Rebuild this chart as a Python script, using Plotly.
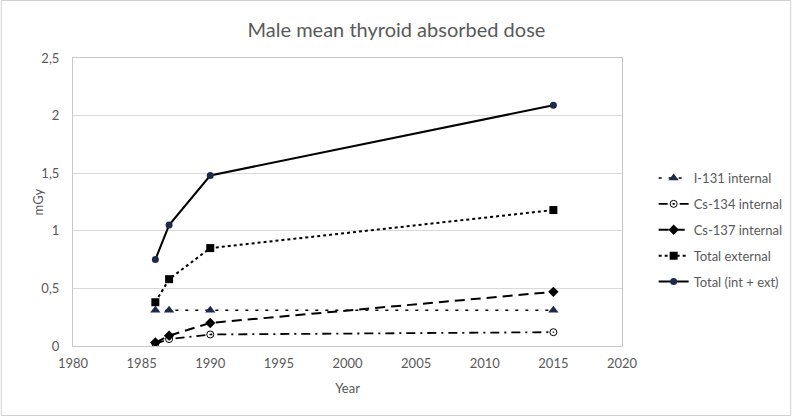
import plotly.graph_objects as go

years = [1986, 1987, 1990, 2015]
i131 = [0.31, 0.31, 0.31, 0.31]
cs134 = [0.02, 0.06, 0.10, 0.12]
cs137 = [0.03, 0.09, 0.20, 0.47]
total_ext = [0.38, 0.58, 0.85, 1.18]
total = [0.75, 1.05, 1.48, 2.09]

x_ticks = [1980, 1985, 1990, 1995, 2000, 2005, 2010, 2015, 2020]
y_ticks = [0, 0.5, 1, 1.5, 2, 2.5]
y_labels = ["0", "0,5", "1", "1,5", "2", "2,5"]

navy = "#1c2b4a"
gray = "#595959"

fig = go.Figure()
fig.add_trace(go.Scatter(x=years, y=i131, name="I-131 internal", mode="lines+markers", legendgroup="a",
                         line=dict(color="black", width=1.5, dash="3px,7px"),
                         marker=dict(symbol="triangle-up", size=9, color=navy)))
fig.add_trace(go.Scatter(x=years, y=cs134, name="Cs-134 internal", mode="lines+markers", legendgroup="b",
                         line=dict(color="black", width=1.8, dash="9px,5px,2px,5px"),
                         marker=dict(symbol="circle-open-dot", size=7, color="black", line=dict(width=1))))
fig.add_trace(go.Scatter(x=years, y=cs137, name="Cs-137 internal", mode="lines+markers", legendgroup="c",
                         line=dict(color="black", width=2, dash="10px,6px"),
                         marker=dict(symbol="diamond", size=8, color="black")))
fig.add_trace(go.Scatter(x=years, y=total_ext, name="Total external", mode="lines+markers", legendgroup="d",
                         line=dict(color="black", width=2, dash="dot"),
                         marker=dict(symbol="square", size=8, color="black")))
fig.add_trace(go.Scatter(x=years, y=total, name="Total (int + ext)", mode="lines+markers", legendgroup="e",
                         line=dict(color="black", width=2),
                         marker=dict(symbol="circle", size=7, color=navy)))

W, H = 800, 417
L, R, T, B = 73, 172, 58, 71
pw, ph = W - L - R, H - T - B

fig.update_layout(
    width=W, height=H,
    margin=dict(l=L, r=R, t=T, b=B),
    paper_bgcolor="white", plot_bgcolor="white",
    font=dict(family="Lato", size=13, color=gray),
    separators=",.",
    title=dict(text="Male mean thyroid absorbed dose", x=(400 - L) / pw, xref="paper",
               xanchor="center", y=1 - 30 / H, yanchor="middle",
               font=dict(size=20, color=gray)),
    xaxis=dict(range=[1980, 2020], tickvals=x_ticks, showgrid=False, zeroline=False,
               showline=True, mirror=True, linecolor="#c8c8c8", linewidth=1,
               ticks="", tickfont=dict(size=13, color=gray), ticklabelstandoff=5,
               title=dict(text="Year", font=dict(size=13, color=gray), standoff=14)),
    yaxis=dict(range=[0, 2.5], tickvals=y_ticks, ticktext=y_labels, showgrid=True,
               gridcolor="#d9d9d9", gridwidth=1, zeroline=False,
               showline=True, mirror=True, linecolor="#c8c8c8", linewidth=1,
               ticks="", tickfont=dict(size=13, color=gray), ticklabelstandoff=10),
    legend=dict(x=(660 - L) / pw, xanchor="left", y=(346 - 230) / ph, yanchor="middle",
                font=dict(size=13, color=gray), tracegroupgap=6, itemwidth=30,
                bgcolor="rgba(0,0,0,0)"),
    showlegend=True,
)

fig.add_annotation(text="mGy", xref="paper", yref="paper", x=(38 - L) / pw, y=0.5,
                   xanchor="center", yanchor="middle", textangle=-90, showarrow=False,
                   font=dict(size=13, color=gray))

fig.add_shape(type="rect", xref="paper", yref="paper",
              x0=-(L - 0.5) / pw, x1=(W - L - 1.5) / pw,
              y0=-(B - 1.5) / ph, y1=(H - B - 0.5) / ph,
              line=dict(color="#d0d0d0", width=1), layer="below")

fig.write_html("out.html", config={"displayModeBar": False},
               post_script="document.body.style.margin='0px';document.body.style.overflow='hidden';")
